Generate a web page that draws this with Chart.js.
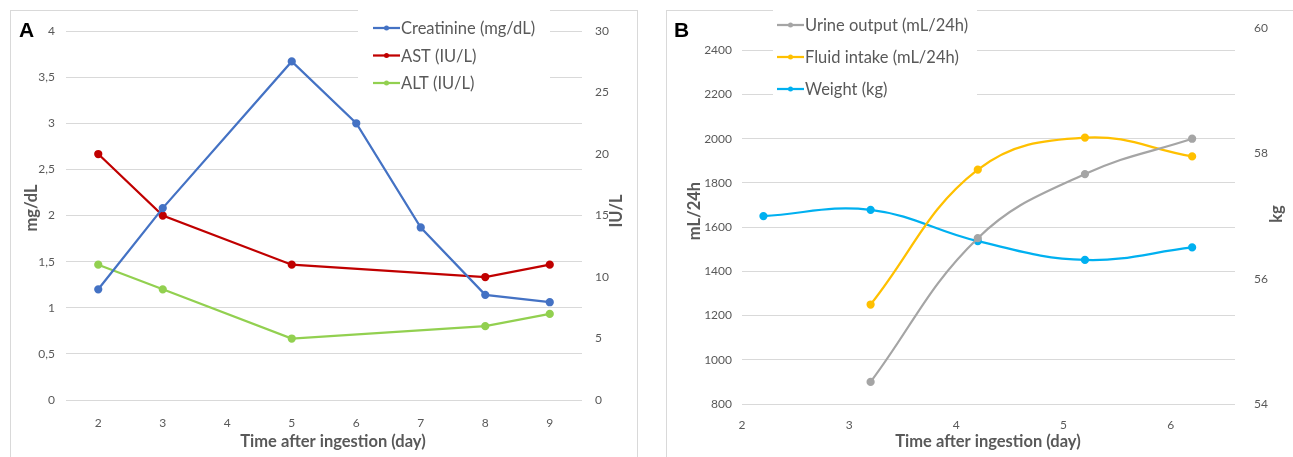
<!DOCTYPE html>
<html>
<head>
<meta charset="utf-8">
<script src="https://cdn.jsdelivr.net/npm/chart.js@4.4.0/dist/chart.umd.min.js"></script>
<style>
  body { margin: 0; background: #fff; width: 1293px; height: 457px; overflow: hidden; position: relative; }
  .panel { position: absolute; border: 1px solid #d9d9d9; box-sizing: border-box; }
  canvas { position: absolute; }
  .tag { position: absolute; font: bold 21px "Liberation Sans", Arial, sans-serif; color: #000; }
</style>
</head>
<body>
<div class="panel" style="left:10px;top:10px;width:628px;height:470px"></div>
<div class="panel" style="left:666px;top:10px;width:640px;height:470px"></div>
<canvas id="chartA" width="628" height="447" style="left:10px;top:10px"></canvas>
<canvas id="chartB" width="627" height="447" style="left:666px;top:10px"></canvas>
<div class="tag" style="left:19px;top:18px">A</div>
<div class="tag" style="left:674px;top:18px">B</div>

<script>
// panel A data (day 4 has no measurement)
const daysA = ['2', '3', '4', '5', '6', '7', '8', '9'];
const creatinine = [1.2, 2.08, null, 3.67, 3.0, 1.87, 1.14, 1.06];
const ast = [20, 15, null, 11, null, null, 10, 11];
const alt = [11, 9, null, 5, null, null, 6, 7];
const ticksMg = [0, 0.5, 1, 1.5, 2, 2.5, 3, 3.5, 4];
const ticksIU = [0, 5, 10, 15, 20, 25, 30];

// panel B data
const daysB = [2.2, 3.2, 4.2, 5.2, 6.2];
const urine = [null, 900, 1550, 1840, 2000];
const fluid = [null, 1250, 1860, 2005, 1920];
const weight = [57.0, 57.1, 56.6, 56.3, 56.5];
const ticksDayB = [2, 3, 4, 5, 6];
const ticksMl = [800, 1000, 1200, 1400, 1600, 1800, 2000, 2200, 2400];
const ticksKg = [54, 56, 58, 60];

const grey = '#595959';
const tickFont = { family: 'Lato', size: 12 };

// legend and axis titles drawn over the chart
const overlay = {
  id: 'overlay',
  afterDraw(chart, args, o) {
    const ctx = chart.ctx;
    ctx.save();
    const lg = o.legend;
    ctx.fillStyle = '#fff';
    ctx.fillRect(lg.box[0], lg.box[1], lg.box[2], lg.box[3]);
    ctx.font = '16.5px Lato';
    ctx.textBaseline = 'middle';
    ctx.textAlign = 'left';
    chart.data.datasets.forEach((ds, i) => {
      const y = lg.y + i * lg.step;
      ctx.strokeStyle = ds.borderColor;
      ctx.fillStyle = ds.borderColor;
      ctx.lineWidth = 2.25;
      ctx.beginPath();
      ctx.moveTo(lg.x, y);
      ctx.lineTo(lg.x + 27, y);
      ctx.stroke();
      ctx.beginPath();
      ctx.arc(lg.x + 13.5, y, 2.5, 0, Math.PI * 2);
      ctx.fill();
      ctx.fillStyle = grey;
      ctx.fillText(ds.label, lg.x + 28, y + 1);
    });
    ctx.font = 'bold 16.5px Lato';
    ctx.fillStyle = grey;
    ctx.textAlign = 'center';
    o.titles.forEach(t => {
      ctx.save();
      ctx.translate(t.x, t.y);
      if (t.rot) ctx.rotate(-Math.PI / 2);
      ctx.fillText(t.text, 0, 0);
      ctx.restore();
    });
    ctx.restore();
  }
};

function fixTicks(list) {
  return axis => { axis.ticks = list.map(v => ({ value: v })); };
}

function line(label, data, color, axis, smooth) {
  return {
    label: label,
    data: data,
    yAxisID: axis,
    borderColor: color,
    backgroundColor: color,
    borderWidth: 2.25,
    pointRadius: 3,
    pointHoverRadius: 3,
    spanGaps: true,
    tension: smooth ? 0.4 : 0,
    clip: false
  };
}

new Chart(document.getElementById('chartA'), {
  type: 'line',
  data: {
    labels: daysA,
    datasets: [
      line('Creatinine (mg/dL)', creatinine, '#4472c4', 'y', false),
      line('AST (IU/L)', ast, '#c00000', 'y1', false),
      line('ALT (IU/L)', alt, '#92d050', 'y1', false)
    ]
  },
  plugins: [overlay],
  options: {
    responsive: false,
    animation: false,
    layout: { padding: { top: 21, left: 0, right: 0, bottom: 0 } },
    plugins: {
      legend: { display: false },
      tooltip: { enabled: false },
      overlay: {
        legend: { box: [348, 0, 192, 86], x: 363, y: 18, step: 27.5 },
        titles: [
          { text: 'mg/dL', x: 22, y: 198, rot: true },
          { text: 'IU/L', x: 607, y: 201, rot: true },
          { text: 'Time after ingestion (day)', x: 323, y: 432 }
        ]
      }
    },
    scales: {
      x: {
        type: 'category',
        offset: true,
        grid: { display: false },
        border: { display: false },
        ticks: { color: grey, font: tickFont, padding: 8, maxRotation: 0 },
        afterFit: s => { s.height = 57; }
      },
      y: {
        position: 'left',
        min: 0, max: 4,
        afterBuildTicks: fixTicks(ticksMg),
        grid: { color: '#d9d9d9', drawTicks: false },
        border: { display: false },
        ticks: { color: grey, font: tickFont, padding: 11, callback: v => String(v).replace('.', ',') },
        afterFit: s => { s.width = 56; }
      },
      y1: {
        position: 'right',
        min: 0, max: 30,
        afterBuildTicks: fixTicks(ticksIU),
        grid: { display: false },
        border: { display: false },
        ticks: { color: grey, font: tickFont, padding: 5 },
        afterFit: s => { s.width = 56; }
      }
    }
  }
});

function pts(ys) {
  const out = [];
  daysB.forEach((d, i) => { if (ys[i] !== null) out.push({ x: d, y: ys[i] }); });
  return out;
}

new Chart(document.getElementById('chartB'), {
  type: 'line',
  data: {
    datasets: [
      line('Urine output (mL/24h)', pts(urine), '#a5a5a5', 'y', true),
      line('Fluid intake (mL/24h)', pts(fluid), '#ffc000', 'y', true),
      line('Weight (kg)', pts(weight), '#00b0f0', 'y1', true)
    ]
  },
  plugins: [overlay],
  options: {
    responsive: false,
    animation: false,
    layout: { padding: { top: 15, left: 0, right: 0, bottom: 0 } },
    plugins: {
      legend: { display: false },
      tooltip: { enabled: false },
      overlay: {
        legend: { box: [107, 0, 204, 90], x: 111, y: 15, step: 32 },
        titles: [
          { text: 'mL/24h', x: 29, y: 201, rot: true },
          { text: 'kg', x: 611, y: 204, rot: true },
          { text: 'Time after ingestion (day)', x: 322, y: 432 }
        ]
      }
    },
    scales: {
      x: {
        type: 'linear',
        min: 2, max: 6.6,
        afterBuildTicks: fixTicks(ticksDayB),
        grid: { display: false },
        border: { display: false },
        ticks: { color: grey, font: tickFont, padding: 6, maxRotation: 0 },
        afterFit: s => { s.height = 53; }
      },
      y: {
        position: 'left',
        min: 800, max: 2500,
        afterBuildTicks: fixTicks(ticksMl),
        grid: { color: '#d9d9d9', drawTicks: false },
        border: { display: false },
        ticks: { color: grey, font: tickFont, padding: 10, callback: v => String(v) },
        afterFit: s => { s.width = 76; }
      },
      y1: {
        position: 'right',
        min: 54, max: 60,
        afterBuildTicks: fixTicks(ticksKg),
        grid: { display: false },
        border: { display: false },
        ticks: { color: grey, font: tickFont, padding: 11 },
        afterFit: s => { s.width = 58; }
      }
    }
  }
});
</script>
</body>
</html>
